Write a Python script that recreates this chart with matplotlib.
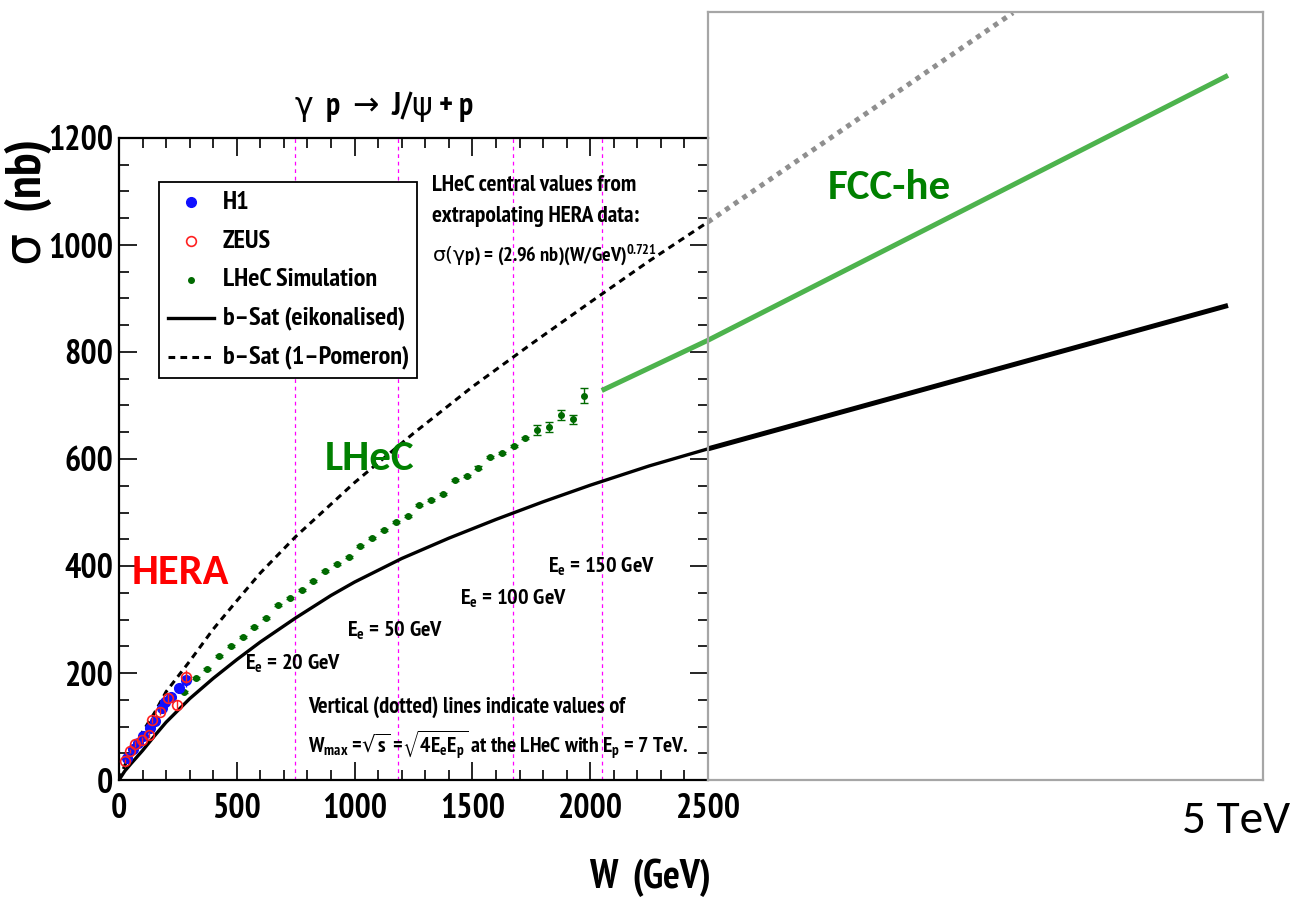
import os
import matplotlib
matplotlib.use("Agg")
import matplotlib.pyplot as plt
from matplotlib import font_manager as fm
from matplotlib.font_manager import FontProperties
from matplotlib.patches import Rectangle
from matplotlib.ticker import MultipleLocator
from matplotlib.textpath import TextPath

# ---------------- data ----------------
# b-Sat (eikonalised) prediction, W in GeV, sigma in nb
bsat_eik_W = [0, 25, 50, 100, 150, 200, 300, 400, 500, 600, 750, 900, 1000,
              1200, 1400, 1600, 1800, 2000, 2250, 2500]
bsat_eik_sigma = [0, 17, 30, 55, 82, 108, 152, 190, 225, 258, 303, 345, 370,
                  414, 452, 487, 520, 551, 587, 619]

# b-Sat (1-Pomeron) prediction
bsat_pom_W = [0, 25, 50, 100, 150, 200, 300, 400, 500, 600, 750, 1000, 1250,
              1500, 1750, 2000, 2250, 2500]
bsat_pom_sigma = [0, 28, 48, 90, 125, 165, 222, 282, 335, 387, 455, 556, 648,
                  735, 815, 893, 970, 1043]

# H1 measurements
h1_W = [34, 60, 82, 102, 131, 153, 181, 196, 220, 256, 284]
h1_sigma = [42, 58, 70, 82, 98, 110, 134, 145, 155, 172, 187]
h1_err = [4, 4, 5, 5, 6, 6, 7, 8, 9, 10, 14]

# ZEUS measurements
zeus_W = [26, 47, 68, 96, 128, 139, 174, 209, 248, 284]
zeus_sigma = [36, 54, 67, 75, 84, 112, 128, 153, 140, 193]
zeus_err = [4, 4, 5, 5, 6, 6, 7, 8, 9, 12]

# LHeC simulated measurements
lhec_W = list(range(275, 2000, 50))
lhec_sigma = [165, 190, 208, 232, 251, 268, 286, 303, 327, 340, 355, 372, 391,
              404, 417, 438, 453, 467, 482, 494, 514, 523, 534, 560, 568, 584,
              603, 612, 624, 640, 654, 660, 682, 674, 718]
lhec_err = [2] * 30 + [9, 9, 10, 9, 14]

# maximum W reachable for each electron beam energy (E_p = 7 TeV)
beam_Ee = [20, 50, 100, 150]
beam_Wmax = [748, 1183, 1673, 2049]

# extrapolation towards FCC-he energies
fcc_main_W = [2049, 2500]
fcc_main_sigma = [728, 822]
fcc_ext_W = [2500, 5000]
fcc_ext_sigma = [822, 1317]
eik_ext_W = [2500, 5000]
eik_ext_sigma = [619, 887]
pom_ext_W = [2500, 3966]
pom_ext_sigma = [1043, 1434]

x_ticks = [0, 500, 1000, 1500, 2000, 2500]
y_ticks = [0, 200, 400, 600, 800, 1000, 1200]


# ---------------- fonts ----------------
def _weight(f):
    w = f.weight
    if isinstance(w, str):
        w = fm.weight_dict.get(w, 400)
    return w


def pick_font(candidates, bold):
    for name, stretch in candidates:
        for f in fm.fontManager.ttflist:
            base = os.path.basename(f.fname)
            if f.name != name or f.style != "normal" or "[" in base:
                continue
            if stretch is not None and f.stretch != stretch:
                continue
            w = _weight(f)
            if (bold and w >= 600) or (not bold and 350 <= w <= 500):
                return f.fname
    return None


root_bold = pick_font([("Liberation Sans Narrow", None),
                       ("PT Sans Narrow", None),
                       ("Open Sans Condensed", None),
                       ("DejaVu Sans", "condensed"),
                       ("Liberation Sans", None)], bold=True)
slide_bold = pick_font([("Carlito", None), ("Lato", None),
                        ("Open Sans", "normal")], bold=True)
slide_reg = pick_font([("Carlito", None), ("Lato", None),
                       ("Open Sans", "normal")], bold=False)


def make_fp(path, fallback_weight):
    if path:
        return FontProperties(fname=path)
    return FontProperties(family="DejaVu Sans", weight=fallback_weight)


FP_ROOT = make_fp(root_bold, "bold")
FP_SLIDE_B = make_fp(slide_bold, "bold")
FP_SLIDE_R = make_fp(slide_reg, "normal")


def sized(fp, s, target_px):
    """Copy of fp scaled so that string s spans target_px pixels."""
    ext = TextPath((0, 0), s, size=100, prop=fp).get_extents()
    size = 100 * target_px / (ext.width * 100 / 72)
    out = fp.copy()
    out.set_size(size)
    return out


W_PX, H_PX = 1293, 897
fig = plt.figure(figsize=(W_PX / 100, H_PX / 100), dpi=100)


def fx(px):
    return px / W_PX


def fy(py):
    return 1 - py / H_PX


# ---------------- main ROOT-style panel ----------------
X0, X1, Y0, Y1 = 119, 708, 780, 138
ax = fig.add_axes([fx(X0), fy(Y0), fx(X1) - fx(X0), fy(Y1) - fy(Y0)])
ax.set_xlim(0, 2500)
ax.set_ylim(0, 1200)
fp_tick = sized(FP_ROOT, "1200", 62)
ax.set_xticks(x_ticks)
ax.set_xticklabels([str(v) for v in x_ticks], fontproperties=fp_tick)
ax.set_yticks(y_ticks)
ax.set_yticklabels([str(v) for v in y_ticks], fontproperties=fp_tick)
ax.xaxis.set_minor_locator(MultipleLocator(100))
ax.yaxis.set_minor_locator(MultipleLocator(50))
ax.tick_params(which="both", direction="in", top=True, right=True,
               width=1.2, color="black")
ax.tick_params(which="major", length=13)
ax.tick_params(which="minor", length=7)
ax.tick_params(axis="y", which="major", pad=4)
ax.tick_params(axis="x", which="major", pad=9)
for side in ("left", "bottom", "top"):
    ax.spines[side].set_linewidth(1.6)
ax.spines["right"].set_visible(False)

# electron-beam-energy limits
for w in beam_Wmax:
    ax.axvline(w, color="#ff00ff", lw=0.9, ls=(0, (3, 3)), zorder=1)

DASH = (0, (2.2, 1.7))
ax.plot(bsat_pom_W, bsat_pom_sigma, color="black", lw=2.2, ls=DASH, zorder=2)
ax.plot(bsat_eik_W, bsat_eik_sigma, color="black", lw=2.4, zorder=2)
ax.plot(fcc_main_W, fcc_main_sigma, color="#4db34d", lw=3.6,
        solid_capstyle="butt", zorder=2)

ax.errorbar(lhec_W, lhec_sigma, yerr=lhec_err, fmt="o", ms=4.0,
            color="#006a00", mec="#006a00", elinewidth=1.0, capsize=3,
            capthick=1.0, zorder=3)
ax.errorbar(h1_W, h1_sigma, yerr=h1_err, fmt="o", ms=7, color="#1010ff",
            mec="#1010ff", elinewidth=1.0, capsize=0, zorder=4)
ax.errorbar(zeus_W, zeus_sigma, yerr=zeus_err, fmt="o", ms=7, mfc="none",
            color="#ff2020", mec="#ff2020", mew=1.2, elinewidth=1.0,
            capsize=0, zorder=5)

# legend box
ax.add_patch(Rectangle((170, 752), 1095, 366, facecolor="white",
                       edgecolor="black", lw=1.3, zorder=6))
leg_y = [1080, 1007, 935, 864, 791]
leg_txt = ["H1", "ZEUS", "LHeC Simulation", "b\u2013Sat (eikonalised)",
           "b\u2013Sat (1\u2013Pomeron)"]
ax.plot([306], [leg_y[0]], "o", ms=7, color="#1010ff", zorder=7)
ax.plot([306], [leg_y[1]], "o", ms=7, mfc="none", mec="#ff2020", mew=1.2,
        zorder=7)
ax.plot([306], [leg_y[2]], "o", ms=4.0, color="#006a00", zorder=7)
ax.plot([208, 403], [leg_y[3]] * 2, color="black", lw=2.4, zorder=7)
ax.plot([208, 403], [leg_y[4]] * 2, color="black", lw=2.2, ls=DASH,
        zorder=7)
fp_leg = sized(FP_ROOT, "LHeC Simulation", 152)
for yy, t in zip(leg_y, leg_txt):
    ax.text(441, yy, t, fontproperties=fp_leg, va="center", ha="left",
            zorder=7)

# annotations
fp_note = sized(FP_ROOT, "LHeC central values from", 203)
ax.text(1329, 1111, "LHeC central values from", fontproperties=fp_note,
        va="center")
ax.text(1329, 1054, "extrapolating HERA data:", fontproperties=fp_note,
        va="center")
formula = r"$\mathrm{\sigma(\gamma}$p) = (2.96 nb)(W/GeV)$^{\mathdefault{0.721}}$"
ax.text(1329, 981, formula, fontproperties=sized(FP_ROOT, formula, 221),
        va="center")

fp_ee = sized(FP_ROOT, r"$\mathdefault{E_e}$ = 150 GeV", 104)
ee_pos = [(535, 206), (968, 267), (1447, 327), (1821, 387)]
for (xx, yy), e in zip(ee_pos, beam_Ee):
    ax.text(xx, yy, r"$\mathdefault{E_e}$ = %d GeV" % e, fontproperties=fp_ee,
            va="baseline", ha="left")

vline_txt = "Vertical (dotted) lines indicate values of"
ax.text(802, 125, vline_txt, fontproperties=sized(FP_ROOT, vline_txt, 319),
        va="baseline")
wmax_txt = (r"$\mathdefault{W_{max}}$ =$\sqrt{\mathdefault{s}}$ ="
            r"$\sqrt{\mathdefault{4E_eE_p}}$ at the LHeC with "
            r"$\mathdefault{E_p}$ = 7 TeV.")
ax.text(802, 49, wmax_txt, fontproperties=sized(FP_ROOT, wmax_txt, 379),
        va="baseline")

ax.text(55, 387, "HERA", color="#ff0000",
        fontproperties=sized(FP_SLIDE_B, "HERA", 95), va="center", ha="left")
ax.text(874, 600, "LHeC", color="#008000",
        fontproperties=sized(FP_SLIDE_B, "LHeC", 87), va="center", ha="left")

# axis titles
title_txt = r"$\mathrm{\gamma}$  p $\rightarrow$ J/$\mathrm{\psi}$ + p"
fig.text(fx(384), fy(106), title_txt,
         fontproperties=sized(FP_ROOT, title_txt, 178),
         ha="center", va="center")
fig.text(fx(28), fy(140), r"$\mathrm{\sigma}$  (nb)",
         fontproperties=sized(FP_ROOT, "(nb)", 68),
         rotation=90, ha="center", va="top")
xlab_txt = "W  (GeV)"
fig.text(fx(711), fy(878), xlab_txt,
         fontproperties=sized(FP_ROOT, xlab_txt, 120),
         ha="right", va="center")

# ---------------- extrapolation panel ----------------
BX0, BX1, BY1 = 708, 1263, 12
ax2 = fig.add_axes([fx(BX0), fy(Y0), fx(BX1) - fx(BX0), fy(BY1) - fy(Y0)])
ax2.set_xlim(2500, 2500 + (BX1 - BX0) / 520 * 2500)
ax2.set_ylim(0, 1200 * (Y0 - BY1) / (Y0 - Y1))
ax2.set_xticks([])
ax2.set_yticks([])
for s in ax2.spines.values():
    s.set_color("#a6a6a6")
    s.set_linewidth(1.6)
ax2.patch.set_alpha(0)

ax2.plot(pom_ext_W, pom_ext_sigma, color="#8f8f8f", lw=3.6,
         ls=(0, (1, 1.1)), dash_capstyle="butt")
ax2.plot(fcc_ext_W, fcc_ext_sigma, color="#4db34d", lw=3.6,
         solid_capstyle="butt")
ax2.plot(eik_ext_W, eik_ext_sigma, color="black", lw=3.6,
         solid_capstyle="butt")
ax2.text(3077, 1108, "FCC-he", color="#008000",
         fontproperties=sized(FP_SLIDE_B, "FCC-he", 120),
         va="center", ha="left")

fig.text(fx(1182), fy(820), "5 TeV",
         fontproperties=sized(FP_SLIDE_R, "5 TeV", 106),
         ha="left", va="center")

fig.savefig("out.png", dpi=100, facecolor="white")
